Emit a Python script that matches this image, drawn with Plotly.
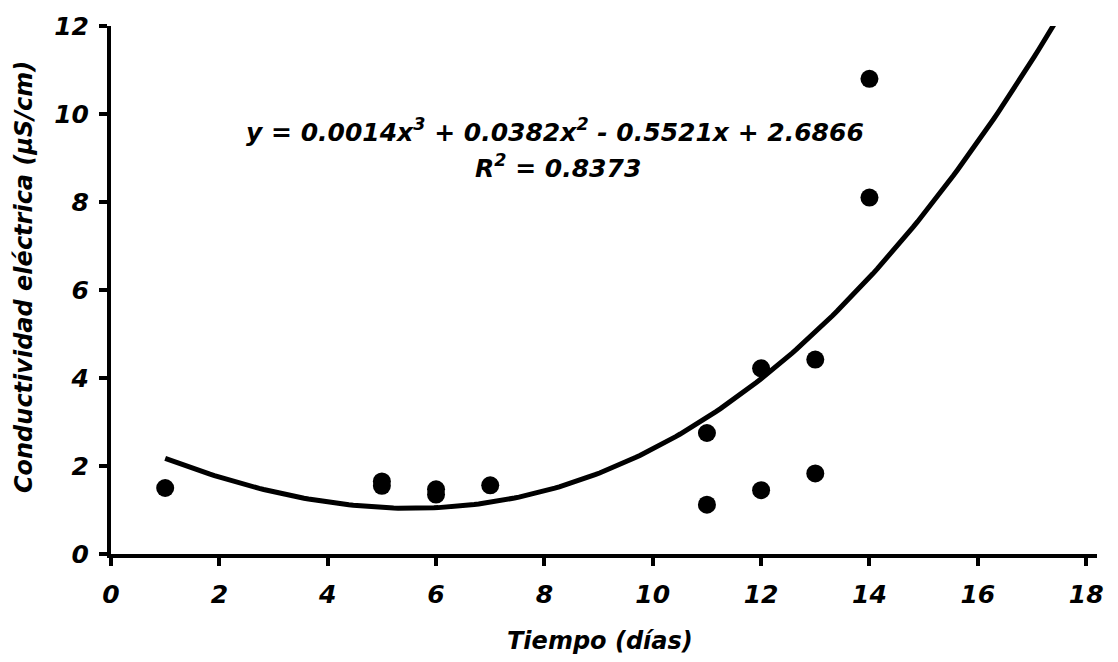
import plotly.graph_objects as go
import numpy as np

dias = [1, 5, 5, 6, 6, 7, 11, 11, 12, 12, 13, 13, 14, 14]
conductividad = [1.5, 1.65, 1.55, 1.47, 1.35, 1.56, 2.75, 1.12, 4.22, 1.45, 4.42, 1.83, 10.8, 8.1]

# Printed trendline coefficients (cubic): a3, a2, a1, a0
coef = [0.0014, 0.0382, -0.5521, 2.6866]
trend_x_range = [1.0, 17.45]

x_ticks = [0, 2, 4, 6, 8, 10, 12, 14, 16, 18]
y_ticks = [0, 2, 4, 6, 8, 10, 12]

xs = np.linspace(trend_x_range[0], trend_x_range[1], 200)
ys = np.polyval(coef, xs)

FONT = "DejaVu Sans"

fig = go.Figure()
fig.add_trace(go.Scatter(x=xs, y=ys, mode="lines",
                         line=dict(color="black", width=5), hoverinfo="skip"))
fig.add_trace(go.Scatter(x=dias, y=conductividad, mode="markers",
                         marker=dict(color="black", size=18)))

fig.add_annotation(x=8.2, y=9.62, xref="x", yref="y",
                   text="<b><i>y = 0.0014x<sup>3</sup> + 0.0382x<sup>2</sup> - 0.5521x + 2.6866</i></b>",
                   showarrow=False, font=dict(family=FONT, size=25, color="black"))
fig.add_annotation(x=8.25, y=8.8, xref="x", yref="y",
                   text="<b><i>R<sup>2</sup> = 0.8373</i></b>",
                   showarrow=False, font=dict(family=FONT, size=25, color="black"))

# Axis titles placed as annotations for exact positioning
fig.add_annotation(x=0.496, y=-0.164, xref="paper", yref="paper",
                   xanchor="center", yanchor="middle",
                   text="<b><i>Tiempo (días)</i></b>", showarrow=False,
                   font=dict(family=FONT, size=24, color="black"))
fig.add_annotation(x=0, y=0.5245, xref="paper", yref="paper", xshift=-87,
                   xanchor="center", yanchor="middle", textangle=-90,
                   text="<b><i>Conductividad eléctrica (µS/cm)</i></b>", showarrow=False,
                   font=dict(family=FONT, size=24, color="black"))

fig.update_layout(
    width=1118, height=662,
    margin=dict(l=111, r=21, t=24, b=108),
    paper_bgcolor="white", plot_bgcolor="white",
    showlegend=False,
    font=dict(family=FONT, color="black"),
)
fig.update_xaxes(range=[0, 18.2], tickvals=x_ticks,
                 showgrid=False, zeroline=False,
                 showline=True, linecolor="black", linewidth=4,
                 ticks="outside", ticklen=8, tickwidth=4, tickcolor="black",
                 ticklabelstandoff=7,
                 tickfont=dict(family=FONT, size=25, color="black", weight="bold", style="italic"))
fig.update_yaxes(range=[0, 12], tickvals=y_ticks,
                 showgrid=False, zeroline=False,
                 showline=True, linecolor="black", linewidth=4,
                 ticks="outside", ticklen=8, tickwidth=4, tickcolor="black",
                 ticklabelstandoff=5,
                 tickfont=dict(family=FONT, size=25, color="black", weight="bold", style="italic"))

fig.write_html("out.html")
